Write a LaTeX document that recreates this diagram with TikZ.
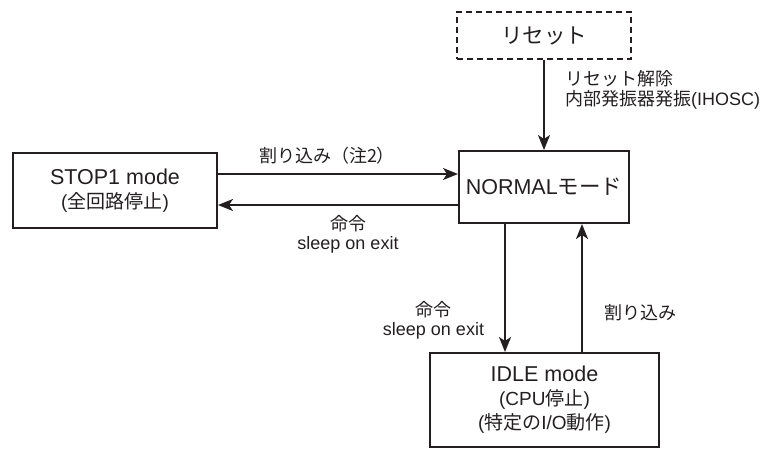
\documentclass[tikz,border=0pt]{standalone}
\usepackage{fontspec}
\setmainfont{Liberation Sans}
\newfontfamily\jp{Noto Sans CJK JP}
\usetikzlibrary{arrows.meta}
\definecolor{ink}{HTML}{231F20}
\begin{document}
\begin{tikzpicture}[x=1pt,y=-1pt,
  box/.style={draw=ink, line width=2pt, rectangle, inner sep=0pt, text=ink, align=center,
    font=\fontsize{19}{24}\selectfont},
  arr/.style={draw=ink, line width=2pt, -{Stealth[length=15pt,width=12pt,inset=4pt]}},
  lab/.style={text=ink, inner sep=0pt, font=\fontsize{18}{19}\selectfont},
  big/.style={font=\fontsize{21.5}{24}\selectfont}]
\useasboundingbox (0,0) rectangle (771,448);
% nodes
\node[box, dashed, dash pattern=on 6pt off 4pt, minimum width=174pt, minimum height=47pt] (reset) at (544,35.5)
  {\fontsize{21.5}{24}\selectfont\jp リセット};
\node[box, minimum width=170pt, minimum height=72pt] (normal) at (544,187)
  {\fontsize{21.5}{24}\selectfont NORMAL{\jp モード}};
\node[box, minimum width=204pt, minimum height=75pt] (stop1) at (115,190.5)
  {{\fontsize{21.5}{24}\selectfont STOP1 mode}\\({\jp 全回路停止})};
\node[box, minimum width=229pt, minimum height=94pt] (idle) at (544.5,400)
  {{\fontsize{21.5}{24}\selectfont IDLE mode}\\(CPU{\jp 停止})\\({\jp 特定の}I/O{\jp 動作})};
% connector coordinates
\coordinate (h1) at (0,174);
\coordinate (h2) at (0,205);
\coordinate (v1) at (505,0);
\coordinate (v2) at (582,0);
% connectors
\draw[arr] (reset.south) -- (normal.north);
\draw[arr] (stop1.east |- h1) -- (normal.west |- h1);
\draw[arr] (normal.west |- h2) -- (stop1.east |- h2);
\draw[arr] (normal.south -| v1) -- (idle.north -| v1);
\draw[arr] (idle.north -| v2) -- (normal.south -| v2);
% labels
\node[lab, anchor=west, align=left, font=\fontsize{18}{20}\selectfont] (lreset) at (565,90)
  {{\jp リセット解除}\\{\jp 内部発振器発振}(IHOSC)};
\node[lab] (lint1) at (327,156) {\jp 割り込み（注2）};
\node[lab, align=center] (lcmd1) at (348,234) {{\jp 命令}\\sleep on exit};
\node[lab, align=center] (lcmd2) at (433.5,320) {{\jp 命令}\\sleep on exit};
\node[lab] (lint2) at (640,313) {\jp 割り込み};
\end{tikzpicture}
\end{document}
